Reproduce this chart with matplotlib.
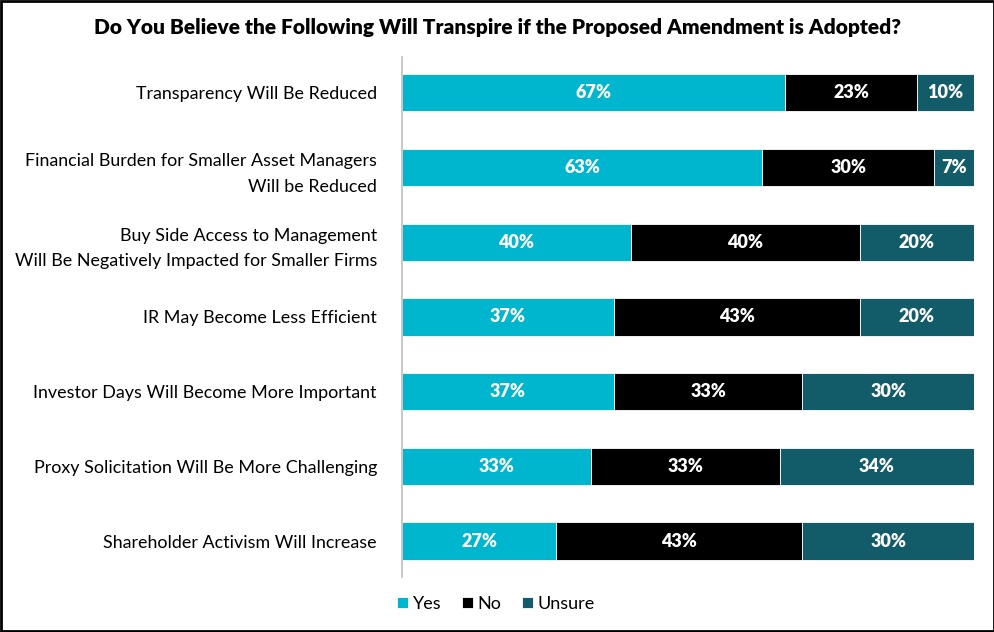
import matplotlib.pyplot as plt
import numpy as np

plt.rcParams['font.family'] = ['Lato', 'DejaVu Sans']

categories = [
    "Transparency Will Be Reduced",
    "Financial Burden for Smaller Asset Managers\nWill be Reduced",
    "Buy Side Access to Management\nWill Be Negatively Impacted for Smaller Firms",
    "IR May Become Less Efficient",
    "Investor Days Will Become More Important",
    "Proxy Solicitation Will Be More Challenging",
    "Shareholder Activism Will Increase",
]
yes = [67, 63, 40, 37, 37, 33, 27]
no = [23, 30, 40, 43, 33, 33, 43]
unsure = [10, 7, 20, 20, 30, 34, 30]

series = [("Yes", yes, "#00B5CE"), ("No", no, "#000000"), ("Unsure", unsure, "#125C69")]

fig = plt.figure(figsize=(9.95, 6.32), dpi=100)
ax = fig.add_axes([0.404, 0.087, 0.575, 0.823])

y = np.arange(len(categories))
left = np.zeros(len(categories))
for name, vals, col in series:
    vals = np.array(vals)
    ax.barh(y, vals, left=left, height=0.5, color=col, edgecolor="white", linewidth=0.6, label=name)
    for yi, l, v in zip(y, left, vals):
        ax.text(l + v / 2, yi, f"{v}%", ha="center", va="center", color="white",
                fontsize=13, fontweight="heavy")
    left += vals

ax.set_xlim(0, 100)
ax.set_ylim(len(categories) - 0.52, -0.48)
ax.set_yticks(y)
ax.set_yticklabels(categories, fontsize=12.9, linespacing=1.75)
ax.tick_params(axis="y", length=0, pad=18)
ax.set_xticks([])
for s in ["top", "right", "bottom"]:
    ax.spines[s].set_visible(False)
ax.spines["left"].set_color("#BFBFBF")
ax.spines["left"].set_linewidth(1.2)

fig.suptitle("Do You Believe the Following Will Transpire if the Proposed Amendment is Adopted?",
             x=0.5, y=0.972, fontsize=15, fontweight="heavy")

fig.legend(loc="lower left", bbox_to_anchor=(0.383, 0.006), ncol=3, frameon=False,
           fontsize=13, handlelength=0.6, handleheight=0.6, handletextpad=0.25,
           columnspacing=1.15)

border = plt.Rectangle((0.001, 0.001), 0.998, 0.997, transform=fig.transFigure,
                       fill=False, edgecolor="black", linewidth=2)
fig.patches.append(border)

fig.savefig("out.png", dpi=100)
